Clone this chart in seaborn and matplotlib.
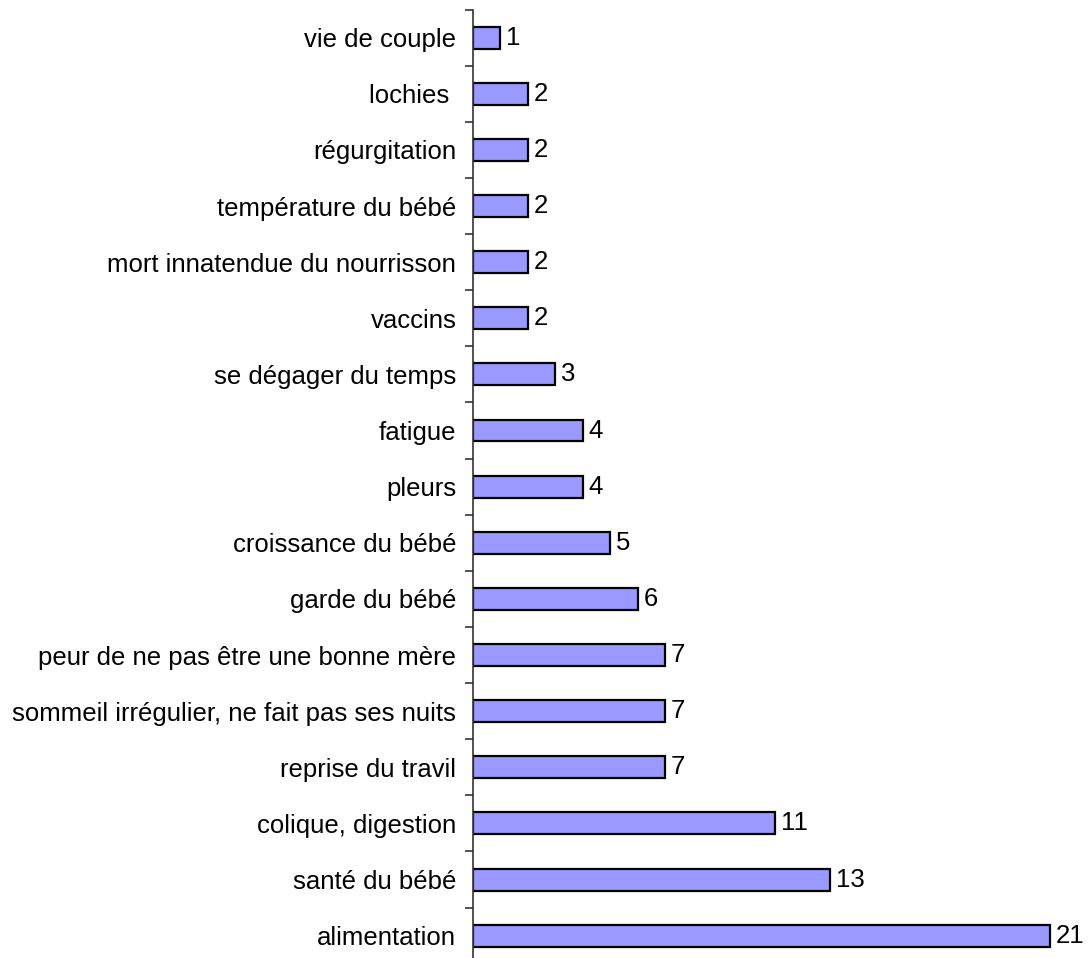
import numpy as np
import pandas as pd
import seaborn as sns
import matplotlib.pyplot as plt
from matplotlib.ticker import FixedLocator

themes = ["vie de couple", "lochies ", "régurgitation", "température du bébé",
          "mort innatendue du nourrisson", "vaccins", "se dégager du temps",
          "fatigue", "pleurs", "croissance du bébé", "garde du bébé",
          "peur de ne pas être une bonne mère",
          "sommeil irrégulier, ne fait pas ses nuits", "reprise du travil",
          "colique, digestion", "santé du bébé", "alimentation"]
counts = [1, 2, 2, 2, 2, 2, 3, 4, 4, 5, 6, 7, 7, 7, 11, 13, 21]

df = pd.DataFrame({"theme": themes, "n": counts})

sns.set_style("white")
plt.rcParams['font.family'] = ['Liberation Sans', 'DejaVu Sans']
plt.rcParams['text.color'] = 'black'
plt.rcParams['ytick.color'] = 'black'

fig = plt.figure(figsize=(10.91, 9.58), dpi=100)
ax = fig.add_axes([473 / 1091, -0.006, 1 - 473 / 1091, 0.996])

sns.barplot(data=df, y="theme", x="n", orient="h", color="#9999FF",
            saturation=1, width=0.39, edgecolor="black", linewidth=1.6, ax=ax)

# value labels at the end of each bar
for bar, v in zip(ax.patches, counts):
    ax.text(bar.get_width() + 0.2, bar.get_y() + bar.get_height() / 2, str(v),
            ha="left", va="center", fontsize=18.5, color="black")

ax.set_xlim(0, 22.5)
ax.set_ylim(len(themes) - 0.5, -0.5)
ax.set_xlabel("")
ax.set_ylabel("")
ax.set_xticks([])

for s in ["top", "right", "bottom"]:
    ax.spines[s].set_visible(False)
ax.spines["left"].set_color("#333333")
ax.spines["left"].set_linewidth(1.2)

ax.tick_params(axis="y", which="major", left=False, length=0, labelsize=18.5,
               pad=12, labelcolor="black")
ax.yaxis.set_minor_locator(FixedLocator(np.arange(-0.5, len(themes), 1)))
ax.tick_params(axis="y", which="minor", left=True, length=6, width=1.2,
               color="#333333", direction="out")

fig.savefig("out.png", dpi=100)
